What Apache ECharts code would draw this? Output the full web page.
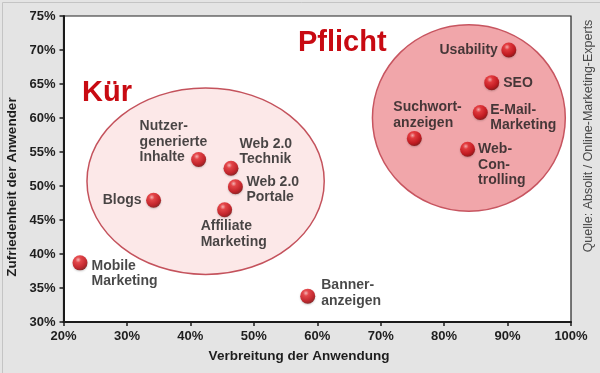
<!DOCTYPE html>
<html>
<head>
<meta charset="utf-8">
<script src="https://cdn.jsdelivr.net/npm/echarts@6/dist/echarts.min.js"></script>
<style>
html,body{margin:0;padding:0;background:#e4e4e4;}
#c{width:600px;height:373px;}
</style>
</head>
<body>
<div id="c"></div>
<script>
// ---- data ----
const names = ['Usability','SEO','E-Mail-Marketing','Suchwortanzeigen','Web-Controlling','Nutzergenerierte Inhalte','Web 2.0 Technik','Web 2.0 Portale','Blogs','Affiliate Marketing','Mobile Marketing','Banneranzeigen'];
const labelTexts = ['Usability','SEO','E-Mail-\nMarketing','Suchwort-\nanzeigen','Web-\nCon-\ntrolling','Nutzer-\ngenerierte\nInhalte','Web 2.0\nTechnik','Web 2.0\nPortale','Blogs','Affiliate\nMarketing','Mobile\nMarketing','Banner-\nanzeigen'];
const adoption = [90.2, 87.5, 85.7, 75.3, 83.7, 41.3, 46.4, 47.1, 34.2, 45.4, 22.6, 58.5];
const satisfaction = [70.0, 65.2, 60.8, 57.0, 55.4, 53.9, 52.6, 49.9, 47.9, 46.5, 38.7, 33.8];
const groupNames = ['Kür', 'Pflicht'];
const groupCenterX = [42.4, 83.9];
const groupCenterY = [50.7, 60.0];
const groupRadiusX = [18.7, 15.2];
const groupRadiusY = [13.7, 13.7];
const xTicks = [20, 30, 40, 50, 60, 70, 80, 90, 100];
const yTicks = [30, 35, 40, 45, 50, 55, 60, 65, 70, 75];

// ---- label layout (pixel offsets from point centre) ----
const labelLayout = {
  'Usability': [-11, -7.5, 'right'],
  'SEO': [11.5, -7.5, 'left'],
  'E-Mail-Marketing': [10, -10.5, 'left'],
  'Suchwortanzeigen': [-21, -39, 'left'],
  'Web-Controlling': [10.5, -7.5, 'left'],
  'Nutzergenerierte Inhalte': [-59, -41, 'left'],
  'Web 2.0 Technik': [8.5, -32, 'left'],
  'Web 2.0 Portale': [11, -12.5, 'left'],
  'Blogs': [-12, -7.5, 'right'],
  'Affiliate Marketing': [-24, 9, 'left'],
  'Mobile Marketing': [11.5, -4.5, 'left'],
  'Banneranzeigen': [13.5, -18.5, 'left']
};
const SYM = 15;
const groupStyles = [
  {fill: '#fce8e8', stroke: '#c4525c'},
  {fill: '#f1a6aa', stroke: '#c75560'}
];

const points = names.map((n, i) => {
  const l = labelLayout[n];
  return {
    name: n,
    value: [adoption[i], satisfaction[i]],
    label: {position: [SYM / 2 + l[0], SYM / 2 + l[1]], align: l[2], verticalAlign: 'top'}
  };
});
const groups = groupNames.map((n, i) => ({name: n, value: [groupCenterX[i], groupCenterY[i], groupRadiusX[i], groupRadiusY[i]]}));

const chart = echarts.init(document.getElementById('c'), null, {renderer: 'canvas'});
const axisTxt = {color: '#1e1e1e', fontFamily: 'Liberation Sans', fontWeight: 'bold', fontSize: 13};
chart.setOption({
  backgroundColor: '#e4e4e4',
  animation: false,
  grid: {left: 63.5, right: 29, top: 16, bottom: 51, show: true, backgroundColor: '#ffffff', borderColor: '#222', borderWidth: 1.2},
  xAxis: {
    type: 'value', min: xTicks[0], max: xTicks[xTicks.length - 1], interval: 10,
    axisLine: {show: true, onZero: false, lineStyle: {color: '#1a1a1a', width: 2}},
    axisTick: {show: true, length: 4, lineStyle: {color: '#1a1a1a', width: 1.5}},
    splitLine: {show: false},
    axisLabel: Object.assign({margin: 8, formatter: '{value}%'}, axisTxt)
  },
  yAxis: {
    type: 'value', min: yTicks[0], max: yTicks[yTicks.length - 1], interval: 5,
    axisLine: {show: true, onZero: false, lineStyle: {color: '#1a1a1a', width: 2}},
    axisTick: {show: true, length: 4, lineStyle: {color: '#1a1a1a', width: 1.5}},
    splitLine: {show: false},
    axisLabel: Object.assign({margin: 8, formatter: '{value}%'}, axisTxt)
  },
  graphic: [
    {type: 'rect', left: 0, top: 0, z: -10, silent: true, shape: {x: 0.5, y: 0.5, width: 599, height: 372}, style: {fill: 'none', stroke: '#c4c4c4', lineWidth: 1}},
    {type: 'text', x: 82, y: 93, z: 10, style: {text: 'Kür', fill: '#c80a12', font: 'bold 29px "Liberation Sans"', verticalAlign: 'middle'}},
    {type: 'text', x: 298, y: 43, z: 10, style: {text: 'Pflicht', fill: '#c80a12', font: 'bold 29px "Liberation Sans"', verticalAlign: 'middle'}},
    {type: 'text', x: 299, y: 356, z: 10, style: {text: 'Verbreitung der Anwendung', fill: '#1e1e1e', font: 'bold 13.5px "Liberation Sans"', align: 'center', verticalAlign: 'middle'}},
    {type: 'text', x: 12, y: 187, rotation: Math.PI / 2, z: 10, style: {text: 'Zufriedenheit der Anwender', fill: '#1e1e1e', font: 'bold 13.5px "Liberation Sans"', align: 'center', verticalAlign: 'middle'}},
    {type: 'text', x: 589, y: 136, rotation: Math.PI / 2, z: 10, style: {text: 'Quelle: Absolit / Online-Marketing-Experts', fill: '#4a4a4a', font: '12.5px "Liberation Sans Narrow", "Liberation Sans"', align: 'center', verticalAlign: 'middle'}}
  ],
  series: [
    {
      type: 'custom',
      z: 1,
      silent: true,
      data: groups,
      renderItem: function (params, api) {
        const c = api.coord([api.value(0), api.value(1)]);
        const rx = api.size([api.value(2), 0])[0];
        const ry = api.size([0, api.value(3)])[1];
        const st = groupStyles[params.dataIndex];
        return {
          type: 'ellipse',
          shape: {cx: c[0], cy: c[1], rx: rx, ry: ry},
          style: {fill: st.fill, stroke: st.stroke, lineWidth: 1.5}
        };
      }
    },
    {
      type: 'scatter',
      z: 5,
      symbol: 'circle',
      symbolSize: SYM,
      data: points,
      itemStyle: {
        color: new echarts.graphic.RadialGradient(0.38, 0.3, 0.75, [
          {offset: 0, color: '#ffb0b0'},
          {offset: 0.25, color: '#e8262a'},
          {offset: 0.7, color: '#c00008'},
          {offset: 1, color: '#700000'}
        ]),
        shadowColor: 'rgba(0,0,0,0.25)', shadowBlur: 2, shadowOffsetY: 1
      },
      label: {
        show: true,
        formatter: function (p) { return labelTexts[p.dataIndex]; },
        color: '#1a1a1a',
        fontFamily: 'Liberation Sans',
        fontWeight: 'bold',
        fontSize: 14,
        lineHeight: 15.5
      },
      labelLayout: {hideOverlap: false}
    }
  ]
});
</script>
</body>
</html>
